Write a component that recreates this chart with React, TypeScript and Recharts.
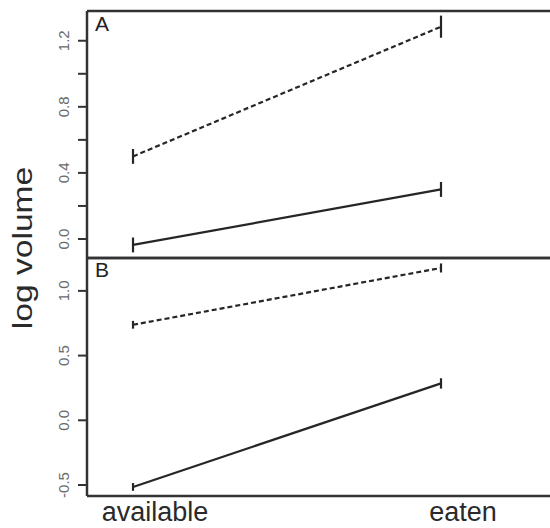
import React from "react";
import { LineChart, Line, XAxis, YAxis, ErrorBar } from "recharts";

const categories = ["available", "eaten"];

const panelADashed = [
  { x: 0, y: 0.5, err: 0.045 },
  { x: 1, y: 1.285, err: 0.067 },
];
const panelASolid = [
  { x: 0, y: -0.036, err: 0.045 },
  { x: 1, y: 0.3, err: 0.045 },
];
const panelBDashed = [
  { x: 0, y: 0.738, err: 0.03 },
  { x: 1, y: 1.177, err: 0.035 },
];
const panelBSolid = [
  { x: 0, y: -0.515, err: 0.03 },
  { x: 1, y: 0.285, err: 0.04 },
];

const ticksA = [0, 0.2, 0.4, 0.6, 0.8, 1.0, 1.2];
const labeledTicksA = [0, 0.4, 0.8, 1.2];
const ticksB = [-0.5, 0, 0.5, 1.0];

const domainA: [number, number] = [-0.115, 1.38];
const domainB: [number, number] = [-0.585, 1.254];
const xDomain: [number, number] = [-0.1494, 1.3539];

const INK = "#262626";
const FRAME = "#333333";

const RotTick = (props: any) => {
  const { x, y, payload, labeled } = props;
  const v = payload.value as number;
  if (labeled && !labeled.some((t: number) => Math.abs(t - v) < 1e-6)) return null;
  const txt = v.toFixed(1);
  return (
    <text
      x={x}
      y={y}
      transform={`rotate(-90, ${x}, ${y})`}
      textAnchor="middle"
      fill="#6a6a6a"
      fontSize={15}
      fontFamily="Liberation Sans, Arial, sans-serif"
    >
      {txt}
    </text>
  );
};

const XTick = (props: any) => {
  const { x, y, payload } = props;
  return (
    <text
      x={x + 22}
      y={y}
      dy={25}
      textAnchor="middle"
      fill="#2a2a2a"
      fontSize={27}
      fontFamily="Liberation Sans, Arial, sans-serif"
    >
      {categories[payload.value]}
    </text>
  );
};

const seriesLine = (data: any[], dashed: boolean, key: string) => (
  <Line
    key={key}
    data={data}
    dataKey="y"
    type="linear"
    stroke={INK}
    strokeWidth={2.2}
    strokeDasharray={dashed ? "5 3" : undefined}
    dot={false}
    activeDot={false}
    isAnimationActive={false}
  >
    <ErrorBar dataKey="err" width={0} stroke={INK} strokeWidth={2.2} direction="y" isAnimationActive={false} />
  </Line>
);

const frameAxis = { stroke: FRAME, strokeWidth: 2.5 };

export default function App() {
  return (
    <div style={{ position: "absolute", left: 0, top: 0, width: 550, height: 528, background: "#fff", overflow: "hidden" }}>
      <div style={{ position: "absolute", left: 0, top: 0 }}>
        <LineChart width={550} height={262} margin={{ top: 10, right: 0, bottom: 3, left: 0 }}>
          <XAxis
            xAxisId={0}
            type="number"
            dataKey="x"
            domain={xDomain}
            allowDataOverflow
            ticks={[0, 1]}
            tick={false}
            tickLine={false}
            height={1}
            axisLine={frameAxis}
          />
          <XAxis
            xAxisId="top"
            orientation="top"
            type="number"
            dataKey="x"
            domain={xDomain}
            allowDataOverflow
            ticks={[0, 1]}
            tick={false}
            tickLine={false}
            height={1}
            axisLine={frameAxis}
          />
          <YAxis
            type="number"
            domain={domainA}
            allowDataOverflow
            ticks={ticksA}
            width={87}
            tickSize={9}
            tickMargin={9}
            tickLine={{ stroke: FRAME, strokeWidth: 2 }}
            axisLine={frameAxis}
            tick={<RotTick labeled={labeledTicksA} />}
            interval={0}
          />
          {seriesLine(panelADashed, true, "ad")}
          {seriesLine(panelASolid, false, "as")}
        </LineChart>
      </div>
      <div style={{ position: "absolute", left: 0, top: 250 }}>
        <LineChart width={550} height={278} margin={{ top: 7, right: 0, bottom: 2, left: 0 }}>
          <XAxis
            xAxisId={0}
            type="number"
            dataKey="x"
            domain={xDomain}
            allowDataOverflow
            ticks={[0, 1]}
            tick={<XTick />}
            tickLine={false}
            tickSize={0}
            tickMargin={0}
            height={30}
            axisLine={frameAxis}
            interval={0}
          />
          <XAxis
            xAxisId="top"
            orientation="top"
            type="number"
            dataKey="x"
            domain={xDomain}
            allowDataOverflow
            ticks={[0, 1]}
            tick={false}
            tickLine={false}
            height={1}
            axisLine={frameAxis}
          />
          <YAxis
            type="number"
            domain={domainB}
            allowDataOverflow
            ticks={ticksB}
            width={87}
            tickSize={9}
            tickMargin={9}
            tickLine={{ stroke: FRAME, strokeWidth: 2 }}
            axisLine={frameAxis}
            tick={<RotTick />}
            interval={0}
          />
          {seriesLine(panelBDashed, true, "bd")}
          {seriesLine(panelBSolid, false, "bs")}
        </LineChart>
      </div>
      <div
        style={{
          position: "absolute",
          left: 95,
          top: 12,
          fontSize: 21,
          lineHeight: "24px",
          color: "#222",
          fontFamily: "Liberation Sans, Arial, sans-serif",
        }}
      >
        A
      </div>
      <div
        style={{
          position: "absolute",
          left: 95,
          top: 258,
          fontSize: 21,
          lineHeight: "24px",
          color: "#222",
          fontFamily: "Liberation Sans, Arial, sans-serif",
        }}
      >
        B
      </div>
      <div
        style={{
          position: "absolute",
          left: 23,
          top: 248,
          width: 0,
          height: 0,
        }}
      >
        <div
          style={{
            position: "absolute",
            left: 0,
            top: 0,
            transform: "translate(-50%, -50%) rotate(-90deg) scaleX(1.2)",
            whiteSpace: "nowrap",
            fontSize: 28,
            lineHeight: "30px",
            color: "#2a2a2a",
            fontFamily: "Liberation Sans, Arial, sans-serif",
          }}
        >
          log volume
        </div>
      </div>
    </div>
  );
}
